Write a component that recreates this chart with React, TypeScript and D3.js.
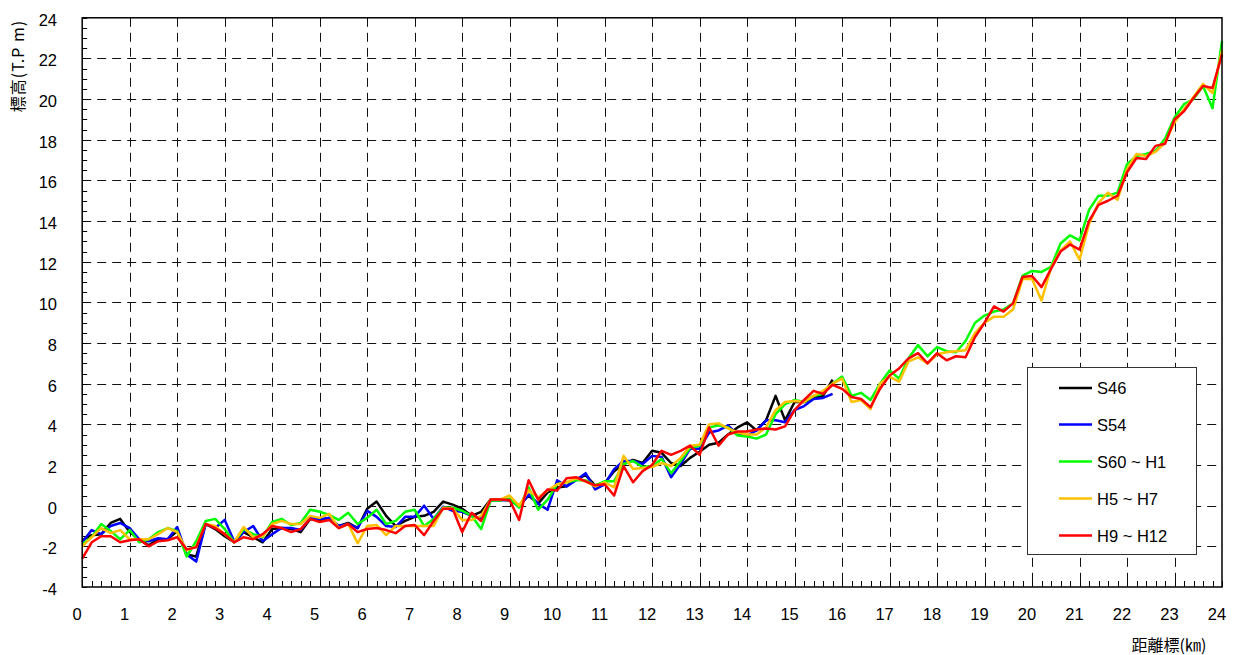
import React from 'react';
import * as d3 from 'd3';

// distance step (km) between survey points
const kmStep = 0.2;

// S46 (0 – 15.8 km)
const s46: number[] = [
  -1.7, -1.45, -1.4, -0.85, -0.65, -1.3, -1.65, -1.95, -1.65, -1.65,
  -1.25, -2.4, -2.5, -0.9, -1.15, -1.5, -1.8, -1.3, -1.55, -1.8,
  -1.15, -1.1, -1.15, -1.3, -0.65, -0.7, -0.6, -1.0, -0.85, -1.1,
  -0.15, 0.2, -0.5, -1.0, -0.75, -0.55, -0.5, -0.3, 0.2, 0.05,
  -0.15, -0.5, -0.3, 0.3, 0.3, 0.25, 0.0, 0.5, 0.1, 0.65,
  0.9, 0.95, 1.3, 1.5, 1.0, 1.1, 1.7, 2.05, 2.25, 2.1,
  2.7, 2.6, 2.1, 1.95, 2.35, 2.65, 3.0, 3.1, 3.5, 3.85,
  4.1, 3.7, 4.2, 5.4, 4.2, 5.1, 5.1, 5.3, 5.4, 6.2,
];

// S54 (0 – 15.8 km)
const s54: number[] = [
  -1.8, -1.2, -1.4, -1.0, -0.85, -1.1, -1.65, -1.75, -1.6, -1.65,
  -1.05, -2.4, -2.75, -0.9, -1.1, -0.7, -1.75, -1.3, -1.0, -1.75,
  -1.4, -1.1, -1.1, -1.2, -0.6, -0.65, -0.6, -1.0, -0.9, -1.1,
  -0.25, -0.55, -1.0, -1.05, -0.55, -0.55, 0.0, -0.65, -0.05, -0.25,
  -0.3, -0.5, -0.6, 0.25, 0.25, 0.3, -0.05, 0.55, 0.1, -0.2,
  1.25, 0.95, 1.25, 1.6, 0.8, 1.05, 1.8, 2.2, 2.2, 2.05,
  2.45, 2.4, 1.4, 2.05, 2.8, 2.8, 3.6, 3.7, 3.95, 3.5,
  3.45, 3.7, 4.2, 4.2, 4.1, 4.7, 4.9, 5.25, 5.3, 5.5,
];

// S60 ~ H1 (0 – 24 km)
const s60h1: number[] = [
  -1.9, -1.55, -0.9, -1.25, -1.65, -1.2, -1.8, -1.65, -1.3, -1.1,
  -1.25, -2.5, -1.75, -0.75, -0.65, -1.15, -1.8, -1.15, -1.4, -1.55,
  -0.8, -0.65, -0.95, -0.85, -0.2, -0.3, -0.45, -0.7, -0.35, -0.9,
  -0.6, -0.2, -0.9, -0.75, -0.3, -0.2, -1.0, -0.65, -0.1, -0.1,
  -0.25, -0.5, -1.15, 0.25, 0.25, 0.35, -0.1, 0.9, -0.2, 0.3,
  1.05, 1.15, 1.25, 1.25, 1.0, 1.2, 1.2, 2.05, 2.2, 1.9,
  1.95, 2.3, 1.6, 2.2, 2.85, 2.95, 3.85, 3.95, 3.85, 3.45,
  3.4, 3.3, 3.5, 4.5, 5.0, 5.2, 5.1, 5.4, 5.5, 6.0,
  6.35, 5.4, 5.55, 5.2, 6.0, 6.65, 6.25, 7.25, 7.9, 7.35,
  7.8, 7.6, 7.55, 8.1, 9.0, 9.35, 9.55, 9.65, 9.95, 11.3,
  11.55, 11.5, 11.75, 12.9, 13.3, 13.05, 14.55, 15.25, 15.25, 15.4,
  16.8, 17.2, 17.3, 17.45, 18.05, 19.1, 19.75, 20.0, 20.65, 19.55,
  22.85,
];

// H5 ~ H7 (0 – 24 km)
const h5h7: number[] = [
  -2.0, -1.55, -1.1, -1.35, -1.2, -1.65, -1.65, -1.65, -1.4, -1.1,
  -1.3, -2.2, -2.0, -0.9, -1.0, -1.4, -1.8, -1.05, -1.55, -1.5,
  -0.9, -0.75, -0.9, -0.9, -0.5, -0.6, -0.4, -1.1, -0.9, -1.85,
  -1.0, -0.95, -1.45, -1.0, -1.0, -1.0, -1.0, -1.0, -0.1, -0.15,
  -0.7, -0.7, -0.5, 0.3, 0.3, 0.5, 0.0, 0.75, 0.4, 0.75,
  1.05, 1.15, 1.35, 1.2, 0.95, 1.15, 0.9, 2.45, 1.8, 1.85,
  1.9, 2.1, 1.95, 2.35, 2.95, 3.0, 4.0, 4.05, 3.8, 3.6,
  3.5, 3.5, 3.85, 4.7, 5.1, 5.15, 5.1, 5.4, 5.65, 6.0,
  6.25, 5.1, 5.2, 4.75, 6.0, 6.35, 6.1, 7.1, 7.3, 7.0,
  7.45, 7.55, 7.6, 7.65, 8.5, 9.0, 9.3, 9.3, 9.65, 11.15,
  11.15, 10.1, 11.7, 12.55, 13.0, 12.1, 13.85, 14.9, 15.4, 15.05,
  16.55, 17.3, 17.2, 17.4, 17.85, 18.85, 19.5, 20.1, 20.75, 20.3,
  22.4,
];

// H9 ~ H12 (0 – 24 km)
const h9h12: number[] = [
  -2.6, -1.8, -1.5, -1.5, -1.8, -1.7, -1.65, -2.0, -1.75, -1.7,
  -1.55, -2.15, -2.05, -0.9, -1.1, -1.4, -1.8, -1.55, -1.65, -1.4,
  -1.0, -1.1, -1.3, -1.15, -0.65, -0.8, -0.7, -1.1, -0.9, -1.3,
  -1.15, -1.1, -1.2, -1.35, -1.0, -0.95, -1.45, -0.75, -0.15, -0.15,
  -1.3, -0.35, -0.75, 0.3, 0.3, 0.28, -0.7, 1.25, 0.3, 0.8,
  0.75, 1.35, 1.4, 1.2, 1.0, 1.05, 0.5, 1.95, 1.15, 1.7,
  2.0, 2.7, 2.5, 2.7, 2.95, 2.5, 3.85, 2.95, 3.5, 3.65,
  3.65, 3.75, 3.8, 3.75, 3.9, 4.7, 5.2, 5.65, 5.5, 5.95,
  5.75, 5.35, 5.25, 4.85, 5.75, 6.4, 6.75, 7.25, 7.5, 7.0,
  7.5, 7.15, 7.35, 7.3, 8.3, 9.0, 9.8, 9.55, 9.95, 11.25,
  11.3, 10.75, 11.65, 12.5, 12.85, 12.6, 14.0, 14.8, 15.0, 15.25,
  16.4, 17.1, 17.05, 17.7, 17.8, 19.0, 19.4, 20.05, 20.65, 20.55,
  22.2,
];

const seriesNames = ['S46', 'S54', 'S60 ~ H1', 'H5 ~ H7', 'H9 ~ H12'];
const seriesValues = [s46, s54, s60h1, h5h7, h9h12];
const seriesColors = ['#000000', '#0000ff', '#00ff00', '#ffc000', '#ff0000'];

const xTickValues = d3.range(0, 25, 1);
const yTickValues = d3.range(-4, 25, 2);

const xTitle = '距離標(㎞)';
const yTitle = '標高(T.P m)';

const W = 1247;
const H = 655;
const plot = { left: 82.2, right: 1222, top: 17.8, bottom: 587 };

const numFont = '"Liberation Sans", Arial, sans-serif';
const cjkFont = '"Noto Sans CJK JP", "Liberation Sans", sans-serif';

export default function App() {
  const x = d3.scaleLinear().domain([0, 24]).range([plot.left, plot.right]);
  const y = d3.scaleLinear().domain([-4, 24]).range([plot.bottom, plot.top]);

  const line = d3
    .line<number>()
    .x((_, i) => x(i * kmStep))
    .y((d) => y(d));

  const xMinor = d3.range(0, 24.0001, 0.2);
  const yMinor = d3.range(-4, 24.0001, 0.5);

  const legend = { x: 1027, y: 367, w: 169, h: 187 };
  const legendRowY = [388, 424.5, 461.5, 498.5, 535.5];

  return (
    <svg
      width={W}
      height={H}
      style={{ position: 'absolute', left: 0, top: 0, background: '#fff' }}
    >
      <rect x={0} y={0} width={W} height={H} fill="#fff" />
      {/* grid */}
      <g stroke="#111" strokeWidth={1} strokeDasharray="9,6" fill="none">
        {xTickValues
          .filter((v) => v > 0 && v < 24)
          .map((v) => (
            <line key={'gx' + v} x1={Math.round(x(v)) + 0.5} x2={Math.round(x(v)) + 0.5} y1={plot.top} y2={plot.bottom} />
          ))}
        {yTickValues
          .filter((v) => v > -4 && v < 24)
          .map((v) => (
            <line key={'gy' + v} x1={plot.left} x2={plot.right} y1={Math.round(y(v)) + 0.5} y2={Math.round(y(v)) + 0.5} />
          ))}
      </g>
      {/* minor ticks */}
      <g stroke="#000" strokeWidth={1}>
        {xMinor.map((v, i) => (
          <line key={'mx' + i} x1={Math.round(x(v)) + 0.5} x2={Math.round(x(v)) + 0.5} y1={plot.bottom} y2={plot.bottom - 6} />
        ))}
        {yMinor.map((v, i) => (
          <line key={'my' + i} x1={plot.left} x2={plot.left + 5} y1={Math.round(y(v)) + 0.5} y2={Math.round(y(v)) + 0.5} />
        ))}
      </g>
      {/* series */}
      <g fill="none" strokeWidth={2.5} strokeLinejoin="round">
        {seriesValues.map((vals, si) => (
          <path key={seriesNames[si]} d={line(vals) || ''} stroke={seriesColors[si]} />
        ))}
      </g>
      {/* frame */}
      <rect
        x={plot.left}
        y={plot.top}
        width={plot.right - plot.left}
        height={plot.bottom - plot.top}
        fill="none"
        stroke="#000"
        strokeWidth={1.5}
      />
      {/* tick labels */}
      <g fontFamily={numFont} fontSize={16.5} fill="#000">
        {xTickValues.map((v) => (
          <text key={'lx' + v} x={x(v) - 5} y={620} textAnchor="middle">
            {v}
          </text>
        ))}
        {yTickValues.map((v) => (
          <text key={'ly' + v} x={57} y={y(v) + 2} textAnchor="end" dominantBaseline="central">
            {v}
          </text>
        ))}
      </g>
      {/* axis titles */}
      <text x={1169} y={651} textAnchor="middle" fontFamily={cjkFont} fontSize={16} fill="#000">
        {xTitle}
      </text>
      <text
        transform={`translate(17,66) rotate(-90)`}
        textAnchor="middle"
        dominantBaseline="central"
        fontFamily={cjkFont}
        fontSize={16}
        letterSpacing={1}
        fill="#000"
      >
        {yTitle}
      </text>
      {/* legend */}
      <g>
        <rect x={legend.x + 0.5} y={legend.y + 0.5} width={legend.w} height={legend.h} fill="#fff" stroke="#333" strokeWidth={1} />
        {seriesNames.map((name, i) => (
          <g key={'lg' + name}>
            <line x1={1059} x2={1092} y1={legendRowY[i]} y2={legendRowY[i]} stroke={seriesColors[i]} strokeWidth={2.5} />
            <text x={1097} y={legendRowY[i]} dominantBaseline="central" fontFamily={numFont} fontSize={16.5} fill="#000">
              {name}
            </text>
          </g>
        ))}
      </g>
    </svg>
  );
}
